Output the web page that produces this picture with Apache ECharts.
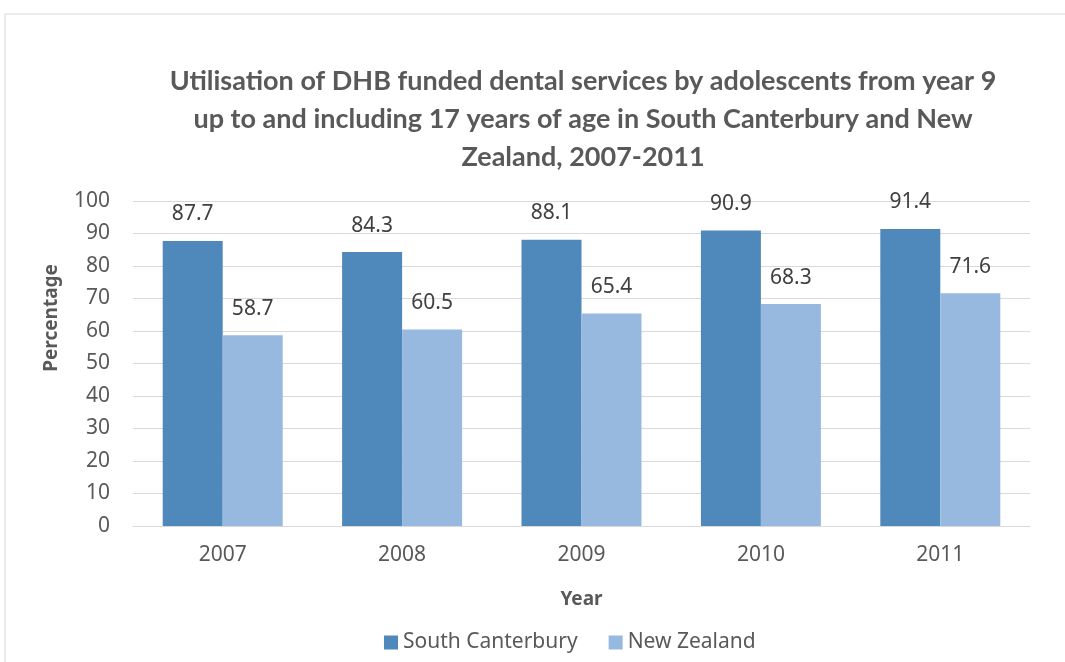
<!DOCTYPE html>
<html>
<head>
<meta charset="utf-8">
<script src="https://cdn.jsdelivr.net/npm/echarts@6/dist/echarts.min.js"></script>
<style>
  html, body { margin: 0; padding: 0; background: #fff; }
  #chart { width: 1065px; height: 662px; }
</style>
</head>
<body>
<div id="chart"></div>
<script>
// Dental service utilisation, adolescents year 9 to age 17
const years = ['2007', '2008', '2009', '2010', '2011'];
const southCanterbury = [87.7, 84.3, 88.1, 90.9, 91.4];
const newZealand = [58.7, 60.5, 65.4, 68.3, 71.6];
const yTicks = [0, 10, 20, 30, 40, 50, 60, 70, 80, 90, 100];

const textFont = '"Noto Sans", "Open Sans", sans-serif';
const titleFont = 'Lato, "Open Sans", sans-serif';
const labelColor = '#595959';

const chart = echarts.init(document.getElementById('chart'));

const labelCfg = {
  show: true,
  position: 'top',
  distance: 16,
  color: '#404040',
  fontFamily: textFont,
  fontSize: 21
};

chart.setOption({
  animation: false,
  title: {
    text: 'Utilisation of DHB funded dental services by adolescents from year 9\nup to and including 17 years of age in South Canterbury and New\nZealand, 2007-2011',
    left: 578,
    top: 57,
    textAlign: 'center',
    textStyle: {
      fontFamily: titleFont,
      fontWeight: 'bold',
      fontSize: 27,
      lineHeight: 38,
      color: labelColor
    }
  },
  graphic: [
    {
      type: 'rect',
      shape: { x: 5, y: 14, width: 1100, height: 700 },
      style: { fill: 'none', stroke: '#D9D9D9', lineWidth: 1 },
      silent: true
    },
    {
      type: 'text',
      x: 52,
      y: 318,
      rotation: Math.PI / 2,
      style: {
        text: 'Percentage',
        fontFamily: textFont,
        fontWeight: 'bold',
        fontSize: 19,
        fill: labelColor,
        align: 'center',
        verticalAlign: 'middle'
      }
    }
  ],
  legend: {
    bottom: 4,
    left: 379,
    itemWidth: 14,
    itemHeight: 14,
    itemGap: 31,
    icon: 'rect',
    textStyle: { fontFamily: textFont, fontSize: 21, color: labelColor },
    data: ['South Canterbury', 'New Zealand']
  },
  grid: { left: 133, right: 35, top: 201, bottom: 136, containLabel: false },
  xAxis: {
    type: 'category',
    data: years,
    name: 'Year',
    nameLocation: 'middle',
    nameGap: 64,
    nameTextStyle: { fontFamily: textFont, fontWeight: 'bold', fontSize: 19, color: labelColor },
    axisLine: { lineStyle: { color: '#D9D9D9', width: 1 } },
    axisTick: { show: false },
    axisLabel: { fontFamily: textFont, fontSize: 21, color: labelColor, margin: 19 }
  },
  yAxis: {
    type: 'value',
    min: yTicks[0],
    max: yTicks[yTicks.length - 1],
    interval: yTicks[1] - yTicks[0],
    axisLine: { show: false },
    axisTick: { show: false },
    splitLine: { lineStyle: { color: '#D9D9D9', width: 1 } },
    axisLabel: { fontFamily: textFont, fontSize: 21, color: labelColor, margin: 23 }
  },
  series: [
    {
      name: 'South Canterbury',
      type: 'bar',
      data: southCanterbury,
      barWidth: 60,
      barGap: '0%',
      itemStyle: { color: '#4F89BC' },
      label: labelCfg
    },
    {
      name: 'New Zealand',
      type: 'bar',
      data: newZealand,
      barWidth: 60,
      barGap: '0%',
      itemStyle: { color: '#97B9E0' },
      label: labelCfg
    }
  ]
});
</script>
</body>
</html>
